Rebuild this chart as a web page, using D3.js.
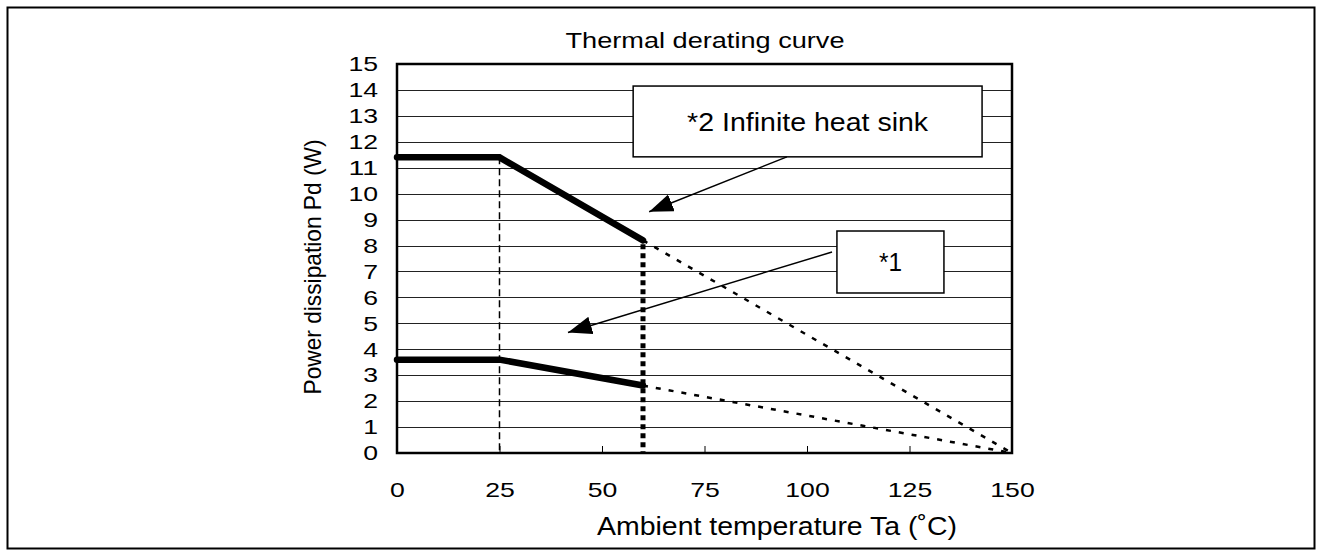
<!DOCTYPE html>
<html>
<head>
<meta charset="utf-8">
<script src="https://cdn.jsdelivr.net/npm/d3@7"></script>
<style>
  body { margin: 0; background: #fff; }
  text { font-family: Arial, "Liberation Sans", sans-serif; fill: #000; }
</style>
</head>
<body>
<div class="svg-container"></div>
<script>
// temperature break points (deg C) and power dissipation (W)
var temps = [0, 25, 60, 150];
var pdHeatSink = [11.4, 11.4, 8.2, 0];   // *2 infinite heat sink
var pdNoSink = [3.6, 3.6, 2.6, 0];       // *1

var xTicks = [0, 25, 50, 75, 100, 125, 150];
var yTicks = d3.range(0, 16);

// callouts, in data units
var callouts = [
  {label: "*2 Infinite heat sink", width: 241, box: [57.6, 142.7, 14.15, 11.42], from: [95.1, 11.42], to: [61.5, 9.3]},
  {label: "*1", width: 23, box: [107.3, 133.4, 8.56, 6.17], from: [106.1, 7.75], to: [41.7, 4.65]}
];

var W = 1323, H = 556;
var margin = {top: 64, right: 311, bottom: 103, left: 397};
var digitW = 14.8;   // the original font is wide

var svg = d3.select(".svg-container").append("svg")
  .attr("width", W)
  .attr("height", H);

// outer frame
svg.append("rect")
  .attr("x", 7.5).attr("y", 7.5)
  .attr("width", 1307).attr("height", 541)
  .attr("fill", "none").attr("stroke", "#000").attr("stroke-width", 2);

var x = d3.scaleLinear().domain([0, 150]).range([margin.left, W - margin.right]);
var y = d3.scaleLinear().domain([0, 15]).range([H - margin.bottom, margin.top]);

// gridlines
svg.append("g")
  .selectAll("line")
  .data(yTicks.slice(1))
  .join("line")
  .attr("x1", x(0)).attr("x2", x(150))
  .attr("y1", function(d) { return Math.round(y(d)) + 0.5; })
  .attr("y2", function(d) { return Math.round(y(d)) + 0.5; })
  .attr("stroke", "#222").attr("stroke-width", 1);

// small inner ticks on x axis
svg.append("g")
  .attr("transform", "translate(0," + y(0) + ")")
  .call(d3.axisTop(x).tickValues(xTicks).tickSize(7).tickFormat(""))
  .call(function(g) { g.select(".domain").remove(); })
  .selectAll("line").attr("stroke-width", 1);

function wide(sel) {
  sel.attr("font-size", 21)
    .attr("lengthAdjust", "spacingAndGlyphs")
    .attr("textLength", function(d) { return String(d).length * digitW; });
}

// x tick labels
svg.append("g")
  .attr("transform", "translate(0," + y(0) + ")")
  .call(d3.axisBottom(x).tickValues(xTicks).tickSize(0).tickPadding(29))
  .call(function(g) { g.select(".domain").remove(); })
  .selectAll("text").call(wide);

// y tick labels
svg.append("g")
  .attr("transform", "translate(" + x(0) + ",0)")
  .call(d3.axisLeft(y).tickValues(yTicks).tickSize(0).tickPadding(19))
  .call(function(g) { g.select(".domain").remove(); })
  .selectAll("text").call(wide);

// vertical guides
svg.append("line")
  .attr("x1", x(temps[1])).attr("x2", x(temps[1]))
  .attr("y1", y(pdHeatSink[1])).attr("y2", y(0))
  .attr("stroke", "#000").attr("stroke-width", 1.5)
  .attr("stroke-dasharray", "7,4");

svg.append("line")
  .attr("x1", x(temps[2])).attr("x2", x(temps[2]))
  .attr("y1", y(pdHeatSink[2]) + 4).attr("y2", y(0))
  .attr("stroke", "#000").attr("stroke-width", 5)
  .attr("stroke-dasharray", "5,4");

var line = d3.line()
  .x(function(d) { return x(d[0]); })
  .y(function(d) { return y(d[1]); });

[pdHeatSink, pdNoSink].forEach(function(series) {
  var pts = temps.map(function(t, i) { return [t, series[i]]; });
  // derated extension past 60 C
  svg.append("path")
    .attr("d", line(pts.slice(2)))
    .attr("fill", "none").attr("stroke", "#000")
    .attr("stroke-width", 2.5).attr("stroke-dasharray", "5,8");
  // operating curve
  svg.append("path")
    .attr("d", line(pts.slice(0, 3)))
    .attr("fill", "none").attr("stroke", "#000")
    .attr("stroke-width", 6.5).attr("stroke-linecap", "round");
});

// plot frame
svg.append("rect")
  .attr("x", x(0)).attr("y", y(15))
  .attr("width", x(150) - x(0)).attr("height", y(0) - y(15))
  .attr("fill", "none").attr("stroke", "#000").attr("stroke-width", 2.5);

// callouts with arrows
svg.append("defs").append("marker")
  .attr("id", "arrow")
  .attr("viewBox", "0 0 24 18")
  .attr("refX", 24).attr("refY", 9)
  .attr("markerWidth", 24).attr("markerHeight", 18)
  .attr("markerUnits", "userSpaceOnUse")
  .attr("orient", "auto")
  .append("path")
  .attr("d", "M0,0L24,9L0,18Z")
  .attr("fill", "#000");

callouts.forEach(function(c) {
  svg.append("rect")
    .attr("x", x(c.box[0])).attr("y", y(c.box[2]))
    .attr("width", x(c.box[1]) - x(c.box[0]))
    .attr("height", y(c.box[3]) - y(c.box[2]))
    .attr("fill", "#fff").attr("stroke", "#000").attr("stroke-width", 1.5);
  svg.append("text")
    .attr("x", (x(c.box[0]) + x(c.box[1])) / 2)
    .attr("y", (y(c.box[2]) + y(c.box[3])) / 2)
    .attr("dy", "0.36em")
    .attr("text-anchor", "middle")
    .attr("font-size", 26)
    .attr("lengthAdjust", "spacingAndGlyphs")
    .attr("textLength", c.width)
    .text(c.label);
  svg.append("line")
    .attr("x1", x(c.from[0])).attr("y1", y(c.from[1]))
    .attr("x2", x(c.to[0])).attr("y2", y(c.to[1]))
    .attr("stroke", "#000").attr("stroke-width", 1.5)
    .attr("marker-end", "url(#arrow)");
});

// titles
svg.append("text")
  .attr("x", 705).attr("y", 48)
  .attr("text-anchor", "middle").attr("font-size", 22)
  .attr("lengthAdjust", "spacingAndGlyphs").attr("textLength", 279)
  .text("Thermal derating curve");

svg.append("text")
  .attr("x", 777).attr("y", 535)
  .attr("text-anchor", "middle").attr("font-size", 26)
  .attr("lengthAdjust", "spacingAndGlyphs").attr("textLength", 360)
  .text("Ambient temperature Ta (˚C)");

svg.append("text")
  .attr("transform", "translate(321,267) rotate(-90)")
  .attr("text-anchor", "middle").attr("font-size", 24)
  .attr("lengthAdjust", "spacingAndGlyphs").attr("textLength", 255)
  .text("Power dissipation Pd (W)");
</script>
</body>
</html>
